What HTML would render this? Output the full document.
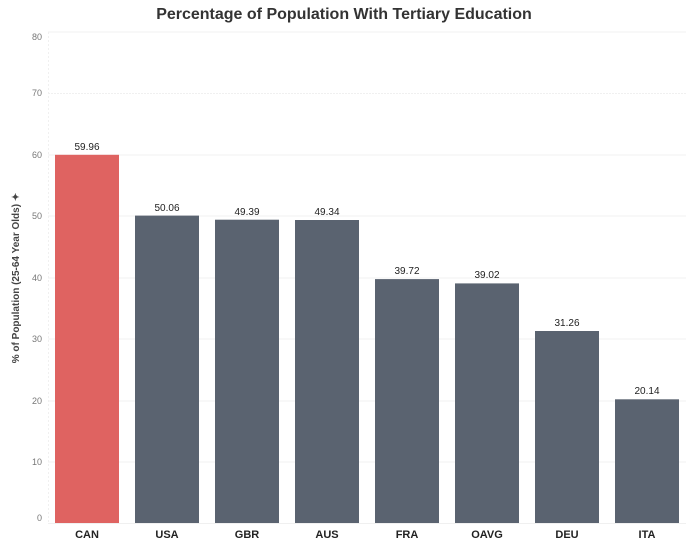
<!DOCTYPE html><html><head><style>body{margin:0;background:#fff}</style></head><body>
<svg width="686" height="544" xmlns="http://www.w3.org/2000/svg" font-family="Liberation Sans, sans-serif">
<text x="344" y="19" text-anchor="middle" font-size="16" font-weight="bold" fill="#333">Percentage of Population With Tertiary Education</text>
<g stroke="#f0f0f0" stroke-width="1">
<line x1="48" x2="686" y1="32" y2="32"/><line x1="48" x2="686" y1="93.5" y2="93.5" stroke-dasharray="2,1"/><line x1="48" x2="686" y1="155" y2="155"/><line x1="48" x2="686" y1="216" y2="216"/><line x1="48" x2="686" y1="278" y2="278"/><line x1="48" x2="686" y1="339" y2="339"/><line x1="48" x2="686" y1="401" y2="401"/><line x1="48" x2="686" y1="462" y2="462"/><line x1="48" x2="686" y1="523.5" y2="523.5"/><line x1="48.5" x2="48.5" y1="32" y2="523" stroke-dasharray="2,2"/>
</g>
<g font-size="9" fill="#777" text-anchor="end">
<text x="42" y="40">80</text><text x="42" y="96">70</text><text x="42" y="158">60</text><text x="42" y="219">50</text><text x="42" y="281">40</text><text x="42" y="342">30</text><text x="42" y="404">20</text><text x="42" y="465">10</text><text x="42" y="521">0</text>
</g>
<text transform="translate(19,278) rotate(-90)" text-anchor="middle" font-size="10" font-weight="bold" fill="#444">% of Population (25-64 Year Olds) ✦</text>
<g>
<rect x="55" y="154.8" width="64" height="368.2" fill="#df6361"/>
<rect x="135" y="215.6" width="64" height="307.4" fill="#5a6370"/>
<rect x="215" y="219.7" width="64" height="303.3" fill="#5a6370"/>
<rect x="295" y="220" width="64" height="303" fill="#5a6370"/>
<rect x="375" y="279.1" width="64" height="243.9" fill="#5a6370"/>
<rect x="455" y="283.4" width="64" height="239.6" fill="#5a6370"/>
<rect x="535" y="331" width="64" height="192" fill="#5a6370"/>
<rect x="615" y="399.3" width="64" height="123.7" fill="#5a6370"/>
</g>
<g font-size="10" fill="#222" text-anchor="middle">
<text x="87" y="150">59.96</text><text x="167" y="211">50.06</text><text x="247" y="215">49.39</text><text x="327" y="215">49.34</text><text x="407" y="274">39.72</text><text x="487" y="278">39.02</text><text x="567" y="326">31.26</text><text x="647" y="394">20.14</text>
</g>
<g font-size="11" font-weight="bold" fill="#222" text-anchor="middle">
<text x="87" y="538">CAN</text><text x="167" y="538">USA</text><text x="247" y="538">GBR</text><text x="327" y="538">AUS</text><text x="407" y="538">FRA</text><text x="487" y="538">OAVG</text><text x="567" y="538">DEU</text><text x="647" y="538">ITA</text>
</g>
</svg></body></html>
